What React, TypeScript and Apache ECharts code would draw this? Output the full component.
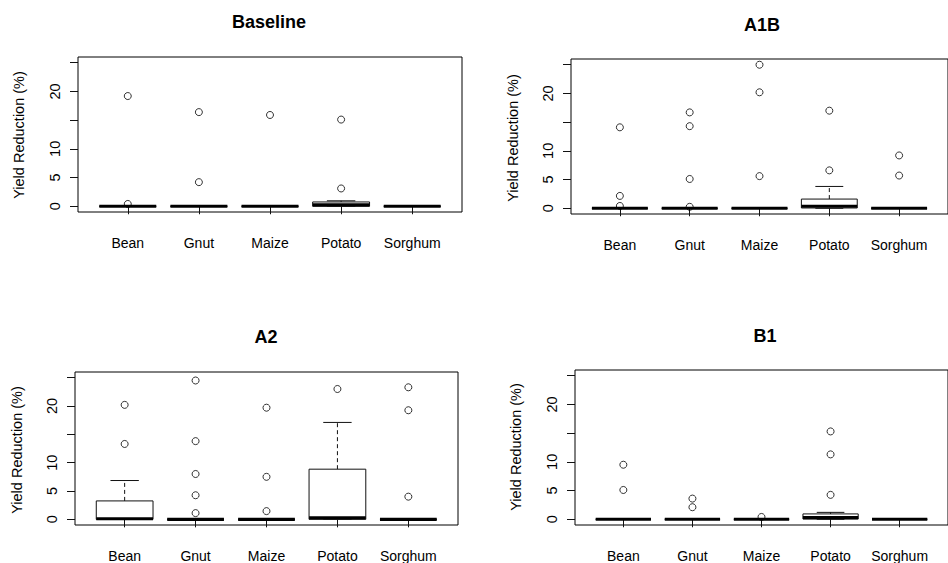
import React, { useEffect, useRef } from "react";
import * as echarts from "echarts";

// ---- data ----
const categories = ["Bean", "Gnut", "Maize", "Potato", "Sorghum"];
const panelTitles = ["Baseline", "A1B", "A2", "B1"];
const yTickValues = [0, 5, 10, 15, 20, 25];
const yLabelValues = [0, 5, 10, 20];
const yAxisTitle = "Yield Reduction (%)";

// box stats per category: [lower whisker, Q1, median, Q3, upper whisker]
const baselineStats = [
  [0, 0, 0, 0, 0],
  [0, 0, 0, 0, 0],
  [0, 0, 0, 0, 0],
  [0, 0, 0.25, 0.75, 0.95],
  [0, 0, 0, 0, 0],
];
const baselineOutliers = [[19.2, 0.4], [16.4, 4.2], [15.9], [15.1, 3.1], []];

const a1bStats = [
  [0, 0, 0, 0, 0],
  [0, 0, 0, 0, 0],
  [0, 0, 0, 0, 0],
  [0, 0.05, 0.35, 1.6, 3.8],
  [0, 0, 0, 0, 0],
];
const a1bOutliers = [[14.1, 2.15, 0.4], [16.7, 14.3, 5.1, 0.25], [25.0, 20.2, 5.6], [17.0, 6.6], [9.2, 5.7]];

const a2Stats = [
  [0, 0, 0.1, 3.25, 6.85],
  [0, 0, 0, 0, 0],
  [0, 0, 0, 0, 0],
  [0, 0, 0.28, 8.85, 17.1],
  [0, 0, 0, 0, 0],
];
const a2Outliers = [[20.2, 13.3], [24.5, 13.8, 8.0, 4.25, 1.1], [19.7, 7.5, 1.45], [23.0], [23.3, 19.25, 4.0]];

const b1Stats = [
  [0, 0, 0, 0, 0],
  [0, 0, 0, 0, 0],
  [0, 0, 0, 0, 0],
  [0, 0.05, 0.3, 0.93, 1.2],
  [0, 0, 0, 0, 0],
];
const b1Outliers = [[9.5, 5.1], [3.6, 2.1], [0.4], [15.3, 11.3, 4.25], []];

const allStats = [baselineStats, a1bStats, a2Stats, b1Stats];
const allOutliers = [baselineOutliers, a1bOutliers, a2Outliers, b1Outliers];

// ---- layout ----
const grids = [
  { left: 78, top: 57, width: 384, height: 155 },
  { left: 571, top: 59, width: 384, height: 155 },
  { left: 75, top: 372, width: 383, height: 156 },
  { left: 575, top: 370, width: 384, height: 155 },
];
const titlePos = [
  [269, 22],
  [762, 24.5],
  [266, 337],
  [765, 335.5],
];
const yTitlePos = [
  [19, 135],
  [513, 138],
  [17, 450],
  [516, 447],
];

const FONT = '"Liberation Sans", Arial, sans-serif';
const INK = "#111";

function renderBox(params: any, api: any) {
  const x = api.value(0);
  const vMin = api.value(1);
  const vQ1 = api.value(2);
  const vMed = api.value(3);
  const vQ3 = api.value(4);
  const vMax = api.value(5);
  const half = api.size([0.8, 0])[0] / 2;
  const capHalf = half / 2;
  const p = api.coord([x, vMed]);
  const cx = p[0];
  const yMed = p[1];
  const yMin = api.coord([x, vMin])[1];
  const yQ1 = api.coord([x, vQ1])[1];
  const yQ3 = api.coord([x, vQ3])[1];
  const yMax = api.coord([x, vMax])[1];
  const lineStyle = { stroke: INK, lineWidth: 1, fill: null };
  const dash = { stroke: INK, lineWidth: 1, lineDash: [4, 3], fill: null };
  const children: any[] = [];
  if (vMax > vQ3) {
    children.push({ type: "line", shape: { x1: cx, y1: yQ3, x2: cx, y2: yMax }, style: dash });
  }
  if (vMin < vQ1) {
    children.push({ type: "line", shape: { x1: cx, y1: yQ1, x2: cx, y2: yMin }, style: dash });
  }
  children.push({ type: "line", shape: { x1: cx - capHalf, y1: yMax, x2: cx + capHalf, y2: yMax }, style: lineStyle });
  children.push({ type: "line", shape: { x1: cx - capHalf, y1: yMin, x2: cx + capHalf, y2: yMin }, style: lineStyle });
  children.push({
    type: "rect",
    shape: { x: cx - half, y: yQ3, width: half * 2, height: Math.max(yQ1 - yQ3, 0) },
    style: { fill: "#fff", stroke: INK, lineWidth: 1 },
  });
  children.push({
    type: "line",
    shape: { x1: cx - half, y1: yMed, x2: cx + half, y2: yMed },
    style: { stroke: "#000", lineWidth: 3.2, fill: null },
  });
  return { type: "group", children };
}

export default function App() {
  const ref = useRef<HTMLDivElement>(null);
  useEffect(() => {
    if (!ref.current) return;
    const chart = echarts.init(ref.current, null, { renderer: "svg" });

    const xAxes = grids.map((_, i) => ({
      type: "value",
      gridIndex: i,
      min: 0.3,
      max: 5.7,
      axisLine: { show: false },
      splitLine: { show: false },
      axisTick: {
        show: true,
        customValues: [1, 2, 3, 4, 5],
        length: 8,
        lineStyle: { color: INK, width: 1 },
      },
      axisLabel: {
        customValues: [1, 2, 3, 4, 5],
        formatter: (v: number) => categories[Math.round(v) - 1] || "",
        margin: 24,
        fontSize: 14,
        fontFamily: FONT,
        color: "#000",
      },
    }));

    const yAxes = grids.map((_, i) => ({
      type: "value",
      gridIndex: i,
      min: -1,
      max: 26,
      axisLine: { show: false },
      splitLine: { show: false },
      axisTick: {
        show: true,
        customValues: yTickValues,
        length: 8,
        lineStyle: { color: INK, width: 1 },
      },
      axisLabel: {
        customValues: yLabelValues,
        rotate: 90,
        margin: 16,
        fontSize: 14.5,
        fontFamily: FONT,
        color: "#000",
      },
    }));

    const series: any[] = [];
    allStats.forEach((stats, i) => {
      series.push({
        type: "custom",
        xAxisIndex: i,
        yAxisIndex: i,
        renderItem: renderBox,
        data: stats.map((s, k) => [k + 1, ...s]),
        encode: { x: 0, y: [1, 2, 3, 4, 5] },
        silent: true,
        z: 2,
      });
      const pts: number[][] = [];
      allOutliers[i].forEach((list, k) => list.forEach((v) => pts.push([k + 1, v])));
      series.push({
        type: "scatter",
        xAxisIndex: i,
        yAxisIndex: i,
        data: pts,
        symbol: "circle",
        symbolSize: 7,
        itemStyle: { color: "rgba(0,0,0,0)", borderColor: "#000", borderWidth: 1 },
        silent: true,
        z: 3,
      });
    });

    const graphics: any[] = [];
    panelTitles.forEach((t, i) => {
      graphics.push({
        type: "text",
        x: titlePos[i][0],
        y: titlePos[i][1],
        style: {
          text: t,
          font: `bold 18px ${FONT}`,
          fill: "#000",
          textAlign: "center",
          textVerticalAlign: "middle",
          align: "center",
          verticalAlign: "middle",
        },
      });
      graphics.push({
        type: "text",
        x: yTitlePos[i][0],
        y: yTitlePos[i][1],
        rotation: Math.PI / 2,
        style: {
          text: yAxisTitle,
          font: `14.5px ${FONT}`,
          fill: "#000",
          textAlign: "center",
          textVerticalAlign: "middle",
          align: "center",
          verticalAlign: "middle",
        },
      });
    });

    chart.setOption({
      animation: false,
      backgroundColor: "#fff",
      grid: grids.map((g) => ({
        ...g,
        show: true,
        borderColor: "#000",
        borderWidth: 1,
        backgroundColor: "transparent",
      })),
      xAxis: xAxes,
      yAxis: yAxes,
      series,
      graphic: graphics,
    });
    return () => chart.dispose();
  }, []);
  return (
    <div
      ref={ref}
      style={{ position: "fixed", left: 0, top: 0, width: 948, height: 563, background: "#fff" }}
    />
  );
}
